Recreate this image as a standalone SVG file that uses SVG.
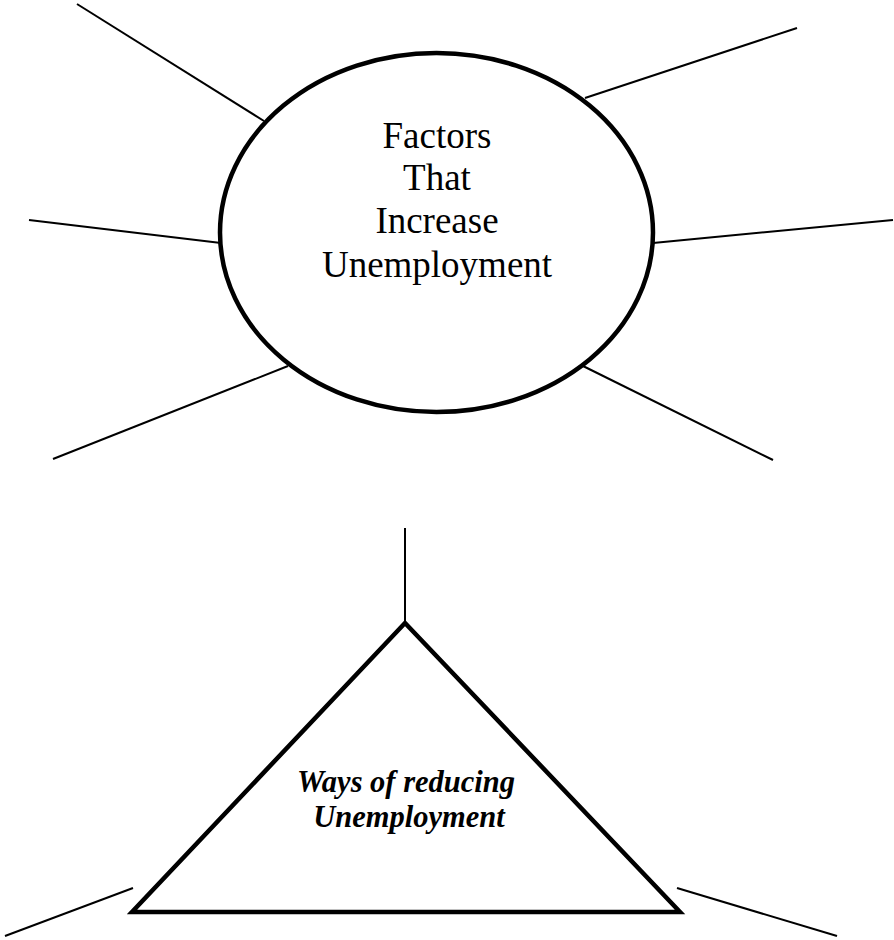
<svg xmlns="http://www.w3.org/2000/svg" width="894" height="940" viewBox="0 0 894 940">
<style>
.spoke{stroke:#000;stroke-width:2;fill:none}
.shape{stroke:#000;stroke-width:4.5;fill:#fff}
.t1{font-family:"Liberation Serif","Times New Roman",serif;font-size:37px;text-anchor:middle;fill:#000}
.t2{font-family:"Liberation Serif","Times New Roman",serif;font-size:30.5px;font-weight:bold;font-style:italic;text-anchor:middle;fill:#000}
</style>
<rect width="894" height="940" fill="#fff"/>
<g id="connectors">
<line class="spoke" x1="77" y1="4" x2="264" y2="121"/>
<line class="spoke" x1="797" y1="28" x2="585" y2="98"/>
<line class="spoke" x1="29" y1="220" x2="221" y2="243"/>
<line class="spoke" x1="893" y1="220" x2="653" y2="243"/>
<line class="spoke" x1="53" y1="459" x2="288" y2="366"/>
<line class="spoke" x1="773" y1="460" x2="583" y2="366"/>
<line class="spoke" x1="405" y1="528" x2="405" y2="623"/>
<line class="spoke" x1="5" y1="936" x2="133" y2="888"/>
<line class="spoke" x1="677" y1="888" x2="837" y2="936"/>
</g>
<g id="factors">
<ellipse class="shape" cx="436.5" cy="232.5" rx="216.5" ry="179.5"/>
<text class="t1" x="437" y="148">Factors</text>
<text class="t1" x="437" y="190">That</text>
<text class="t1" x="437" y="233">Increase</text>
<text class="t1" x="437" y="277">Unemployment</text>
</g>
<g id="ways">
<polygon class="shape" points="405,623 132,912 680,912" stroke-linejoin="miter"/>
<text class="t2" x="406" y="792">Ways of reducing</text>
<text class="t2" x="409" y="827">Unemployment</text>
</g>
</svg>
